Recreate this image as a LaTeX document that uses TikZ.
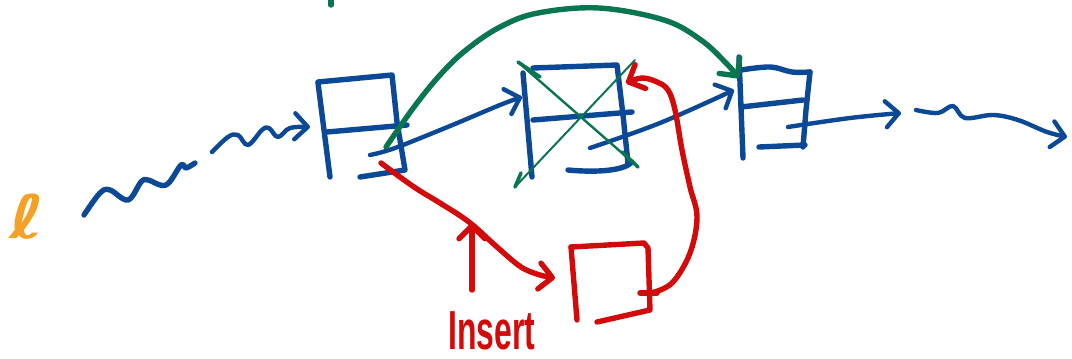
\documentclass[tikz,border=0pt]{standalone}
\usepackage{fontspec}
\usetikzlibrary{arrows.meta}
\newfontfamily\ellfont{DejaVu Sans}
\newfontfamily\handfont{Liberation Sans}
\definecolor{inkblue}{HTML}{0B4896}
\definecolor{inkgreen}{HTML}{0A7650}
\definecolor{inkred}{HTML}{D20A0A}
\definecolor{inkorange}{HTML}{F4A126}
\tikzset{
  pen/.style={line width=5.4pt, line cap=round, line join=round},
  thinpen/.style={line width=2pt, line cap=round, line join=round},
  barb/.style={-{Straight Barb[length=13pt,width=26pt,round]}},
  boxblue/.style={pen, draw=inkblue},
  arrowblue/.style={pen, line width=4.4pt, draw=inkblue, barb},
  redpen/.style={pen, draw=inkred},
  greenpen/.style={pen, draw=inkgreen},
}
\begin{document}
\begin{tikzpicture}[x=1pt, y=-1pt]
\useasboundingbox (0,0) rectangle (1072,359);

% list head label
\node[text=inkorange, font=\ellfont\bfseries\fontsize{60}{60}\selectfont, inner sep=0pt] (head) at (27,217) {\scalebox{1.25}[1]{ℓ}};

% named connector ends
\coordinate (waveA0) at (84,215);
\coordinate (waveB1) at (310,127);
\coordinate (n1next) at (370,155);
\coordinate (n2in)   at (522,97);
\coordinate (n2next) at (590,148);
\coordinate (n3in)   at (734,90);
\coordinate (n3next) at (788,127);
\coordinate (tailin) at (901,113);
\coordinate (waveC0) at (916,110);
\coordinate (waveC1) at (1067,137);
\coordinate (n1bot)  at (381,163);
\coordinate (newin)  at (555,278);
\coordinate (newnext) at (651,293);
\coordinate (n2right) at (626,83);
\coordinate (bypass0) at (386,147);
\coordinate (n3top)  at (739,78);

% incoming part of the list (wavy)
\draw[boxblue] plot[smooth, tension=0.6] coordinates {(waveA0) (100,193) (110,190) (128,200) (141,182) (148,180) (166,185) (181,165) (186,168) (195,163)};
\draw[arrowblue] plot[smooth, tension=0.6] coordinates {(212,152) (228,137) (238,135) (248,145) (262,130) (269,128) (278,137) (290,128) (waveB1)};

% node 1
\draw[boxblue] (318,83) -- (330,177);
\draw[boxblue] (318,82) -- (392,75) -- (397,122) -- (405,170) -- (360,177);
\draw[boxblue] (327,132) -- (407,125);

% node 2 (removed)
\draw[boxblue] (523,73) -- (532,177);
\draw[boxblue] (533,68) -- (617,65) -- (623,115) -- (628,163);
\draw[boxblue] (568,170) .. controls (600,173) and (625,170) .. (632,162);
\draw[boxblue] (533,120) -- (632,112);

% node 3
\draw[boxblue] (739,57) -- (743,158);
\draw[boxblue] plot[smooth, tension=0.6] coordinates {(741,70) (770,67) (792,72) (810,72)};
\draw[boxblue] (810,72) -- (806,110) -- (803,147);
\draw[boxblue] (741,107) -- (803,100);
\draw[boxblue] (759,147) -- (805,145);

% next pointers
\draw[arrowblue] plot[smooth, tension=0.6] coordinates {(n1next) (395,148) (450,126) (500,105) (n2in)};
\draw[arrowblue] plot[smooth, tension=0.6] coordinates {(n2next) (660,123) (n3in)};
\draw[arrowblue] plot[smooth, tension=0.6] coordinates {(n3next) (850,118) (tailin)};

% rest of the list (wavy)
\draw[arrowblue] plot[smooth, tension=0.6] coordinates {(waveC0) (938,113) (953,106) (965,118) (993,115) (1018,120) (1047,132) (waveC1)};

% bypass after removal
\draw[greenpen, barb] plot[smooth, tension=0.6] coordinates {(bypass0) (414,107) (440,75) (466,50) (500,27) (538,13) (599,8) (664,20) (701,40) (726,63) (n3top)};
\draw[greenpen] (331,0) -- (331,5);

% cross over node 2
\draw[thinpen, draw=inkgreen, line width=2.4pt] (518,62) -- (638,167);
\draw[greenpen, line width=3.6pt] (518,62) -- (540,77);
\draw[greenpen, line width=3.6pt] (622,152) -- (638,167);
\draw[thinpen, draw=inkgreen] (635,60) -- (515,187);
\draw[greenpen, line width=3.6pt] (515,187) -- (521,173);

% new node
\draw[redpen] (571,247) -- (577,320);
\draw[redpen] (571,247) -- (644,243) -- (648,248) -- (650,310) -- (597,322);
\draw[redpen] (640,293) -- (657,293);

% insertion links
\draw[redpen, barb] plot[smooth, tension=0.6] coordinates {(n1bot) (414,187) (440,203) (469,222) (497,247) (521,267) (540,275) (newin)};
\draw[redpen, barb] plot[smooth, tension=0.6] coordinates {(newnext) (672,283) (690,253) (697,217) (690,187) (682,150) (675,110) (668,90) (657,82) (642,78) (n2right)};

% label of the insertion step
\node[text=inkred, font=\handfont\bfseries\fontsize{55}{55}\selectfont, inner sep=0pt, anchor=base] (ins) at (492,349) {\scalebox{0.58}[1]{Insert}};
\coordinate (insup) at (472,223);
\draw[redpen, barb] (472,290) -- (insup);
\end{tikzpicture}
\end{document}
